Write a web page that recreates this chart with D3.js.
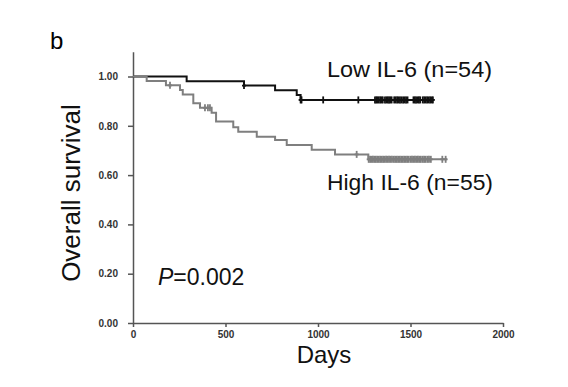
<!DOCTYPE html>
<html>
<head>
<meta charset="utf-8">
<script src="https://cdn.jsdelivr.net/npm/d3@7"></script>
<style>
  body { margin: 0; background: #fff; }
  svg { display: block; font-family: "Liberation Sans", Arial, sans-serif; }
  .tick text { font-family: "Liberation Sans Narrow", "Arial Narrow", "Liberation Sans", sans-serif; font-weight: bold; fill: #333; }
</style>
</head>
<body>
<svg id="chart-svg" width="568" height="387"></svg>
<script>
// Kaplan-Meier steps: [day, survival]
var lowSteps = [[0, 1.0], [290, 0.981], [600, 0.963], [768, 0.944], [885, 0.925], [906, 0.905]];
var lowEnd = 1622;
var lowCensor = [600, 906, 911, 1028, 1218,
  1308, 1315, 1321, 1328, 1336, 1343, 1350, 1362, 1370, 1377, 1384, 1391, 1398, 1412, 1420, 1428, 1435, 1443, 1451, 1460, 1468, 1476, 1484,
  1516, 1523, 1530, 1538, 1545, 1552, 1566, 1574, 1582, 1590, 1598, 1606, 1614, 1621];

var highSteps = [[0, 1.0], [74, 0.982], [178, 0.964], [254, 0.945], [269, 0.927], [326, 0.891], [362, 0.873],
  [425, 0.853], [449, 0.817], [542, 0.794], [569, 0.776], [669, 0.756], [768, 0.742], [831, 0.722],
  [966, 0.703], [1092, 0.684], [1272, 0.664]];
var highEnd = 1697;
var highCensor = [200, 389, 405, 416, 1209,
  1274, 1282, 1290, 1297, 1305, 1312, 1320, 1328, 1336, 1344, 1352, 1360, 1368, 1376, 1384, 1392, 1400, 1410, 1418, 1426, 1434, 1442,
  1450, 1458, 1466, 1474, 1482, 1490, 1500, 1508, 1516, 1524, 1532, 1540, 1548, 1556, 1566, 1574, 1582, 1592, 1600, 1610,
  1672, 1690];

var xTicks = [0, 500, 1000, 1500, 2000];
var yTicks = [0, 0.2, 0.4, 0.6, 0.8, 1.0];

var svg = d3.select("#chart-svg");

var x = d3.scaleLinear().domain([0, 2000]).range([133, 503]);
var y = d3.scaleLinear().domain([0, 1.1]).range([323, 51.85]);

function stepPath(steps, end) {
    var pts = steps.concat([[end, steps[steps.length - 1][1]]]);
    return d3.line()
        .x(d => x(d[0]))
        .y(d => y(d[1]))
        .curve(d3.curveStepAfter)(pts);
}

function survivalAt(steps, t) {
    var s = steps[0][1];
    steps.forEach(d => { if (d[0] <= t) s = d[1]; });
    return s;
}

// axes
var xAxis = svg.append("g")
    .attr("transform", "translate(0," + y(0) + ")")
    .call(d3.axisBottom(x).tickValues(xTicks).tickFormat(d3.format("d")).tickSize(4).tickSizeOuter(0).tickPadding(4));
xAxis.selectAll("text").attr("font-size", 10);

var yAxis = svg.append("g")
    .attr("transform", "translate(" + x(0) + ",0)")
    .call(d3.axisLeft(y).tickValues(yTicks).tickFormat(d3.format(".2f")).tickSize(5).tickSizeOuter(0).tickPadding(10));
yAxis.selectAll("text").attr("font-size", 10);

svg.selectAll(".domain, .tick line").attr("stroke", "#555").attr("stroke-width", 1.5);

// curves (gray on top)
var series = [
    { steps: lowSteps, end: lowEnd, censor: lowCensor, color: "#111" },
    { steps: highSteps, end: highEnd, censor: highCensor, color: "#7f7f7f" }
];

series.forEach(s => {
    svg.append("path")
        .attr("d", stepPath(s.steps, s.end))
        .attr("fill", "none")
        .attr("stroke", s.color)
        .attr("stroke-width", 2);

    var marks = svg.append("g").attr("stroke", s.color).attr("stroke-width", 1.8);
    marks.selectAll(".cv")
        .data(s.censor)
        .enter()
        .append("line")
        .attr("class", "cv")
        .attr("x1", d => x(d)).attr("x2", d => x(d))
        .attr("y1", d => y(survivalAt(s.steps, d)) - 3.5)
        .attr("y2", d => y(survivalAt(s.steps, d)) + 3.5);
    marks.selectAll(".ch")
        .data(s.censor)
        .enter()
        .append("line")
        .attr("class", "ch")
        .attr("x1", d => x(d) - 2).attr("x2", d => x(d) + 2)
        .attr("y1", d => y(survivalAt(s.steps, d)))
        .attr("y2", d => y(survivalAt(s.steps, d)));
});

// labels
svg.append("text").attr("x", 50).attr("y", 49).attr("font-size", 24).text("b");

svg.append("text").attr("x", 327).attr("y", 77).attr("font-size", 22)
    .attr("textLength", 165).attr("lengthAdjust", "spacingAndGlyphs")
    .attr("fill", "#111").text("Low IL-6 (n=54)");
svg.append("text").attr("x", 327).attr("y", 190).attr("font-size", 22)
    .attr("textLength", 166).attr("lengthAdjust", "spacingAndGlyphs")
    .attr("fill", "#111").text("High IL-6 (n=55)");

svg.append("text")
    .attr("transform", "translate(80,193) rotate(-90)")
    .attr("text-anchor", "middle")
    .attr("font-size", 26)
    .attr("fill", "#111")
    .text("Overall survival");

svg.append("text")
    .attr("x", 324).attr("y", 363)
    .attr("text-anchor", "middle")
    .attr("font-size", 24)
    .attr("fill", "#111")
    .text("Days");

var pText = svg.append("text").attr("x", 158).attr("y", 285).attr("font-size", 23).attr("fill", "#111");
pText.append("tspan").attr("font-style", "italic").text("P");
pText.append("tspan").text("=0.002");
</script>
</body>
</html>
